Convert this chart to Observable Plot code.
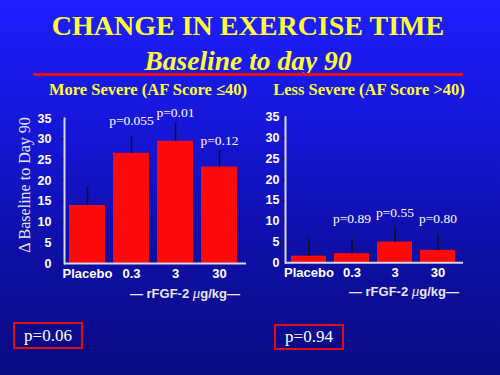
<!DOCTYPE html>
<html>
<head>
<meta charset="utf-8">
<script src="https://cdn.jsdelivr.net/npm/d3@7"></script>
<script src="https://cdn.jsdelivr.net/npm/@observablehq/plot@0.6"></script>
<style>
  html, body { margin: 0; padding: 0; }
  #chart {
    position: relative; width: 500px; height: 375px; overflow: hidden;
    background: linear-gradient(to bottom, #1e1eff 0%, #1616d8 35%, #0f0fa8 65%, #0a0a80 100%);
    font-family: "Liberation Serif", serif;
  }
  .abs { position: absolute; white-space: nowrap; }
  .title { color: #ffff33; font-weight: bold; text-align: center; left: 0; width: 496px; }
  .panel { color: #ffff33; font-weight: bold; font-size: 16.5px; transform: translateX(-50%); }
  .xlab { color: #e8e8f0; font-family: "Liberation Sans", sans-serif; font-weight: bold; font-size: 13px; transform: translateX(-50%); }
  .xlab i { font-family: "Liberation Serif", serif; font-style: italic; font-weight: normal; font-size: 15px; }
  .box { border: 2px solid #e01010; color: white; font-size: 17px; text-align: center; box-sizing: border-box; }
</style>
</head>
<body>
<div id="chart"></div>
<script>
// ---- data ----
const doses = ["Placebo", "0.3", "3", "30"];
const severeMeans = [14.0, 26.6, 29.5, 23.3];
const severeErrTop = [18.4, 30.5, 33.9, 27.3];
const severeP = ["", "p=0.055", "p=0.01", "p=0.12"];
const severePY = [null, 34.5, 36.3, 29.7];
const lessMeans = [1.6, 2.2, 5.0, 3.0];
const lessErrTop = [5.8, 5.8, 8.8, 6.7];
const lessP = ["", "p=0.89", "p=0.55", "p=0.80"];
const lessPY = [null, 10.6, 12.1, 10.6];
const yTicks = [0, 5, 10, 15, 20, 25, 30, 35];
const titleText = "CHANGE IN EXERCISE TIME";
const subtitleText = "Baseline to day 90";
const panelTitles = ["More Severe (AF Score \u226440)", "Less Severe (AF Score >40)"];
const yLabel = "\u0394 Baseline to Day 90";
const xLabelParts = ["\u2014 rFGF-2 ", "\u03BC", "g/kg\u2014"];
const overallP = ["p=0.06", "p=0.94"];

function rows(means, errs, ps, pys) {
  return doses.map((d, i) => ({dose: d, value: means[i], err: errs[i], p: ps[i], py: pys[i]}));
}

function panel(data, opts) {
  return Plot.plot({
    width: 250, height: 210,
    marginLeft: opts.ml, marginRight: opts.mr, marginTop: opts.mt, marginBottom: opts.mb,
    style: {background: "transparent", color: "white", overflow: "visible",
            fontFamily: "Liberation Sans, sans-serif", fontWeight: "bold", fontSize: "12px"},
    x: {domain: doses, range: opts.xr, paddingInner: 0.19, paddingOuter: 0, label: null},
    y: {domain: [0, 35], label: null},
    marks: [
      Plot.barY(data, {x: "dose", y: "value", fill: "#ff0a0a"}),
      Plot.ruleX(data, {x: "dose", y1: "value", y2: "err", stroke: "#111", strokeWidth: 1.5}),
      Plot.text(data.filter(d => d.p), {x: "dose", y: "py", text: "p", fill: "white",
        fontFamily: "Liberation Serif, serif", fontWeight: "normal", fontSize: 13.5}),
      Plot.axisY({ticks: yTicks, tickSize: 3, tickPadding: opts.tp, stroke: "#111", fill: "white", fontSize: 12.5}),
      Plot.axisX({tickSize: 0, tickPadding: 5, fill: "white", fontSize: 13}),
      Plot.frame({anchor: "left", stroke: "#d8d8e8", strokeWidth: 2}),
      Plot.ruleY([0], {stroke: "#d8d8e8", strokeWidth: 2})
    ]
  });
}

const chart = document.getElementById("chart");
function add(text, cls, style) {
  const d = document.createElement("div");
  d.className = "abs " + cls;
  d.textContent = text;
  Object.assign(d.style, style);
  chart.appendChild(d);
  return d;
}
function addXLabel(style) {
  const d = add("", "xlab", style);
  d.append(xLabelParts[0]);
  const i = document.createElement("i"); i.textContent = xLabelParts[1]; d.append(i);
  d.append(xLabelParts[2]);
}

add(titleText, "title", {top: "10px", fontSize: "28px"});
add(subtitleText, "title", {top: "45px", fontSize: "27.5px", fontStyle: "italic"});
add("", "", {top: "73px", left: "33px", width: "430px", height: "3px", background: "#e81010"});
add(panelTitles[0], "panel", {top: "80px", left: "148px"});
add(panelTitles[1], "panel", {top: "80px", left: "369px"});

const p1 = panel(rows(severeMeans, severeErrTop, severeP, severePY),
  {ml: 64, mr: 4, mt: 18, mb: 47, xr: [68, 238], tp: 10});
p1.style.position = "absolute"; p1.style.left = "0px"; p1.style.top = "100px";
chart.appendChild(p1);

const p2 = panel(rows(lessMeans, lessErrTop, lessP, lessPY),
  {ml: 35, mr: 37, mt: 16.7, mb: 47.7, xr: [40, 206], tp: 3});
p2.style.position = "absolute"; p2.style.left = "250px"; p2.style.top = "100px";
chart.appendChild(p2);

add(yLabel, "", {top: "185px", left: "25px", color: "#e8e8f0", fontSize: "16px",
  transform: "translate(-50%, -50%) rotate(-90deg)"});
addXLabel({top: "285px", left: "185px"});
addXLabel({top: "283px", left: "404px"});

add(overallP[0], "box", {top: "322px", left: "13px", width: "70px", height: "27px", lineHeight: "23px"});
add(overallP[1], "box", {top: "324px", left: "274px", width: "70px", height: "26px", lineHeight: "22px"});
</script>
</body>
</html>
